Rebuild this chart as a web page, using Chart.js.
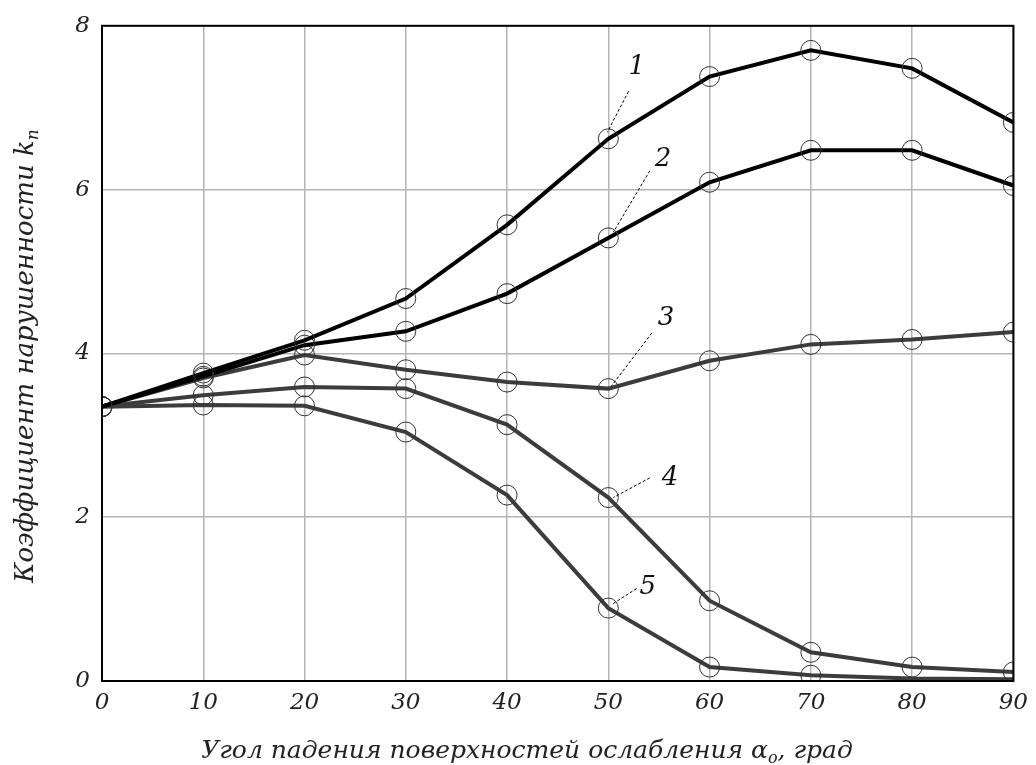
<!DOCTYPE html>
<html>
<head>
<meta charset="utf-8">
<script src="https://cdn.jsdelivr.net/npm/chart.js@4"></script>
<style>
  html, body { margin: 0; padding: 0; background: #fff; }
  #wrap { width: 1036px; height: 765px; }
</style>
</head>
<body>
<div id="wrap"><canvas id="myChart"></canvas></div>
<script>
const angles = [0, 10, 20, 30, 40, 50, 60, 70, 80, 90];
const curve1 = [3.35, 3.76, 4.16, 4.67, 5.57, 6.62, 7.38, 7.7, 7.48, 6.82];
const curve2 = [3.35, 3.72, 4.1, 4.27, 4.73, 5.41, 6.09, 6.48, 6.48, 6.05];
const curve3 = [3.35, 3.7, 3.98, 3.8, 3.65, 3.57, 3.91, 4.11, 4.17, 4.26];
const curve4 = [3.35, 3.49, 3.59, 3.57, 3.13, 2.24, 0.98, 0.35, 0.17, 0.11];
const curve5 = [3.35, 3.37, 3.36, 3.04, 2.27, 0.89, 0.17, 0.07, 0.03, 0.02];
const yTicks = [0, 2, 4, 6, 8];
const curveNames = ['1', '2', '3', '4', '5'];
const xTitle = ['Угол падения поверхностей ослабления ', 'α', 'о', ', град'];
const yTitle = ['Коэффициент нарушенности ', 'k', 'n', ''];

// label position and leader line end points, in data units
const labelSpots = [
  { text: '1', x: 52.8, y: 7.5, fromX: 52.0, fromY: 7.2, toX: 49.9, toY: 6.7 },
  { text: '2', x: 55.4, y: 6.37, fromX: 54.1, fromY: 6.23, toX: 50.5, toY: 5.48 },
  { text: '3', x: 55.7, y: 4.43, fromX: 54.3, fromY: 4.25, toX: 50.3, toY: 3.6 },
  { text: '4', x: 56.1, y: 2.48, fromX: 54.1, fromY: 2.48, toX: 50.5, toY: 2.24 },
  { text: '5', x: 53.9, y: 1.14, fromX: 52.8, fromY: 1.13, toX: 50.3, toY: 0.93 }
];

const serif = '"DejaVu Serif", "Liberation Serif", serif';

function pts(arr) { return angles.map((a, i) => ({ x: a, y: arr[i] })); }

const lineColors = ['#000000', '#000000', '#3c3c3c', '#3c3c3c', '#3c3c3c'];
const series = [curve1, curve2, curve3, curve4, curve5];
const radii = [
  [10, 10, 10, 10, 10, 10, 10, 10, 10, 10],
  [10, 10, 10, 10, 10, 10, 10, 10, 10, 10],
  [10, 10, 10, 10, 10, 10, 10, 10, 10, 10],
  [10, 10, 10, 10, 10, 10, 10, 10, 10, 10],
  [10, 10, 10, 10, 10, 10, 10, 10, 0, 0]
];

// text with a subscript part, centred on (cx, cy)
function subText(ctx, parts, cx, cy, size) {
  const big = 'italic ' + size + 'px ' + serif;
  const small = 'italic ' + Math.round(size * 0.65) + 'px ' + serif;
  ctx.font = big;
  const w0 = ctx.measureText(parts[0]).width;
  const w1 = ctx.measureText(parts[1]).width;
  const w3 = ctx.measureText(parts[3]).width;
  ctx.font = small;
  const w2 = ctx.measureText(parts[2]).width;
  let x = cx - (w0 + w1 + w2 + w3) / 2;
  ctx.textAlign = 'left';
  ctx.textBaseline = 'middle';
  ctx.font = big;
  ctx.fillText(parts[0] + parts[1], x, cy);
  x += w0 + w1;
  ctx.font = small;
  ctx.fillText(parts[2], x, cy + size * 0.3);
  x += w2;
  ctx.font = big;
  ctx.fillText(parts[3], x, cy);
}

const frame = {
  id: 'frame',
  afterDatasetsDraw(chart) {
    const { ctx, chartArea: a, scales } = chart;
    ctx.save();
    ctx.strokeStyle = '#000';
    ctx.lineWidth = 2;
    ctx.strokeRect(a.left, a.top, a.right - a.left, a.bottom - a.top);
    // curve labels with dashed leaders
    ctx.lineWidth = 1;
    ctx.setLineDash([3, 2]);
    labelSpots.forEach(s => {
      ctx.beginPath();
      ctx.moveTo(scales.x.getPixelForValue(s.fromX), scales.y.getPixelForValue(s.fromY));
      ctx.lineTo(scales.x.getPixelForValue(s.toX), scales.y.getPixelForValue(s.toY));
      ctx.stroke();
    });
    ctx.setLineDash([]);
    ctx.fillStyle = '#111';
    ctx.font = 'italic 26px ' + serif;
    ctx.textAlign = 'center';
    ctx.textBaseline = 'middle';
    labelSpots.forEach(s => {
      ctx.fillText(s.text, scales.x.getPixelForValue(s.x), scales.y.getPixelForValue(s.y));
    });
    // axis titles
    ctx.fillStyle = '#222';
    subText(ctx, xTitle, 527, 751, 25);
    ctx.translate(26, 356);
    ctx.rotate(-Math.PI / 2);
    subText(ctx, yTitle, 0, 0, 26);
    ctx.restore();
  }
};

const ctx = document.getElementById('myChart');

new Chart(ctx, {
  type: 'line',
  data: {
    datasets: series.map((s, i) => ({
      label: curveNames[i],
      data: pts(s),
      borderColor: lineColors[i],
      borderWidth: 4,
      tension: 0,
      pointRadius: radii[i],
      pointBorderWidth: 1,
      pointBorderColor: '#333',
      pointBackgroundColor: 'rgba(0,0,0,0)',
      clip: 0
    }))
  },
  options: {
    responsive: true,
    maintainAspectRatio: false,
    animation: false,
    layout: { padding: { top: 25, right: 20, left: 0, bottom: 0 } },
    plugins: {
      legend: { display: false },
      tooltip: { enabled: false }
    },
    scales: {
      x: {
        type: 'linear',
        min: 0,
        max: 90,
        afterFit(scale) { scale.height = 84; },
        ticks: {
          stepSize: 10,
          padding: 8,
          color: '#222',
          font: { family: serif, style: 'italic', size: 23 }
        },
        grid: { color: '#b4b4b4', lineWidth: 1.5, drawTicks: false },
        border: { display: false }
      },
      y: {
        type: 'linear',
        min: 0,
        max: 8,
        afterFit(scale) { scale.width = 102; },
        afterBuildTicks(scale) { scale.ticks = yTicks.map(v => ({ value: v })); },
        ticks: {
          padding: 12,
          color: '#222',
          font: { family: serif, style: 'italic', size: 23 }
        },
        grid: { color: '#b4b4b4', lineWidth: 1.5, drawTicks: false },
        border: { display: false }
      }
    }
  },
  plugins: [frame]
});
</script>
</body>
</html>
